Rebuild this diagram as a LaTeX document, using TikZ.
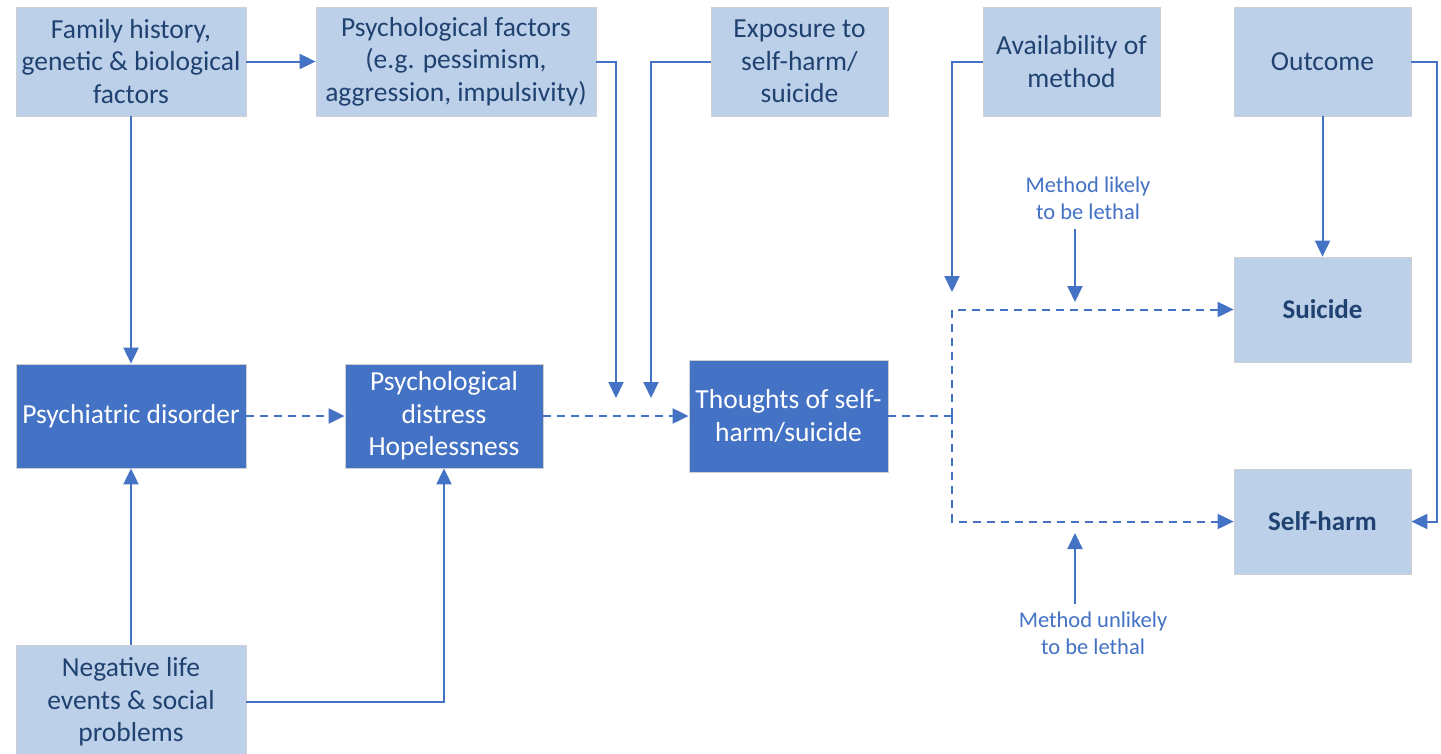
\documentclass[tikz,border=0pt]{standalone}
\usepackage{fontspec}
\setmainfont{Carlito}
\usetikzlibrary{arrows.meta}
\definecolor{lightbox}{HTML}{BDD0E9}
\definecolor{darkbox}{HTML}{4472C4}
\definecolor{boxtext}{HTML}{1F4270}
\definecolor{linec}{HTML}{4472C4}
\definecolor{edgec}{HTML}{D0D0D0}
\begin{document}
\begin{tikzpicture}[x=1pt,y=-1pt,
  base/.style={draw=edgec, line width=0.8pt, inner sep=0pt, align=center, font=\fontsize{27.5}{32.5}\selectfont},
  light/.style={base, fill=lightbox, text=boxtext},
  dark/.style={base, fill=darkbox, text=white},
  boldbox/.style={light, font=\fontsize{27}{32}\selectfont\bfseries},
  conn/.style={draw=linec, line width=2pt, -{Triangle[length=16pt,width=15pt]}},
  dconn/.style={conn, dash pattern=on 8pt off 6pt},
  dline/.style={draw=linec, line width=2pt, dash pattern=on 8pt off 6pt},
  lbl/.style={text=linec, align=center, inner sep=0pt, font=\fontsize{22.5}{27}\selectfont}
]
\useasboundingbox (0,0) rectangle (1441,753);
\fill[white] (0,0) rectangle (1441,753);

% top row
\node[light, minimum width=230, minimum height=109] (fam) at (131,61.5) {Family history,\\genetic \& biological\\factors};
\node[light, minimum width=280, minimum height=109] (psyf) at (456,61.5) {Psychological factors\\(e.g. pessimism,\\aggression, impulsivity)};
\node[light, minimum width=177, minimum height=109] (expo) at (799.5,61.5) {Exposure to\\self-harm/\\suicide};
\node[light, minimum width=177, minimum height=109] (avail) at (1071.5,61.5) {Availability of\\method};
\node[light, minimum width=177, minimum height=109] (outc) at (1322.5,61.5) {Outcome};

% middle row
\node[dark, minimum width=230, minimum height=104] (psyd) at (131,416) {Psychiatric disorder};
\node[dark, minimum width=198, minimum height=104] (dist) at (444,416) {Psychological\\distress\\Hopelessness};
\node[dark, minimum width=199, minimum height=112] (thou) at (788.5,416) {Thoughts of self-\\harm/suicide};

% right column
\node[boldbox, minimum width=177, minimum height=105] (sui) at (1322.5,309.5) {Suicide};
\node[boldbox, minimum width=177, minimum height=105] (sh) at (1322.5,521.5) {Self-harm};

% bottom
\node[light, minimum width=230, minimum height=114] (neg) at (131,702) {Negative life\\events \& social\\problems};

% labels
\node[lbl] (lik) at (1088,198.5) {Method likely\\to be lethal};
\node[lbl] (unl) at (1093,633.5) {Method unlikely\\to be lethal};

% helper coordinates
\coordinate (pfend) at (616,398);
\coordinate (exend) at (651,398);
\coordinate (avend) at (952,292);
\coordinate (split) at (952,416);
\coordinate (likst) at (1075,229);
\coordinate (liken) at (1075,302);
\coordinate (unlst) at (1075,604);
\coordinate (unlen) at (1075,533);

% connectors
\draw[conn] (fam.east) -- (psyf.west);
\draw[conn] (fam.south) -- (psyd.north);
\draw[conn] (neg.north) -- (psyd.south);
\draw[conn] (neg.east) -| (dist.south);
\draw[dconn] (psyd.east) -- (dist.west);
\draw[dconn] (dist.east) -- (thou.west);
\draw[conn] (psyf.east) -| (pfend);
\draw[conn] (expo.west) -| (exend);
\draw[conn] (avail.west) -| (avend);
\draw[dline] (thou.east) -- (split);
\draw[dconn] (split) |- (sui.west);
\draw[dconn] (split) |- (sh.west);
\draw[conn] (likst) -- (liken);
\draw[conn] (unlst) -- (unlen);
\draw[conn] (outc.south) -- (sui.north);
\draw[conn] (outc.east) -- ++(26,0) |- (sh.east);
\end{tikzpicture}
\end{document}
